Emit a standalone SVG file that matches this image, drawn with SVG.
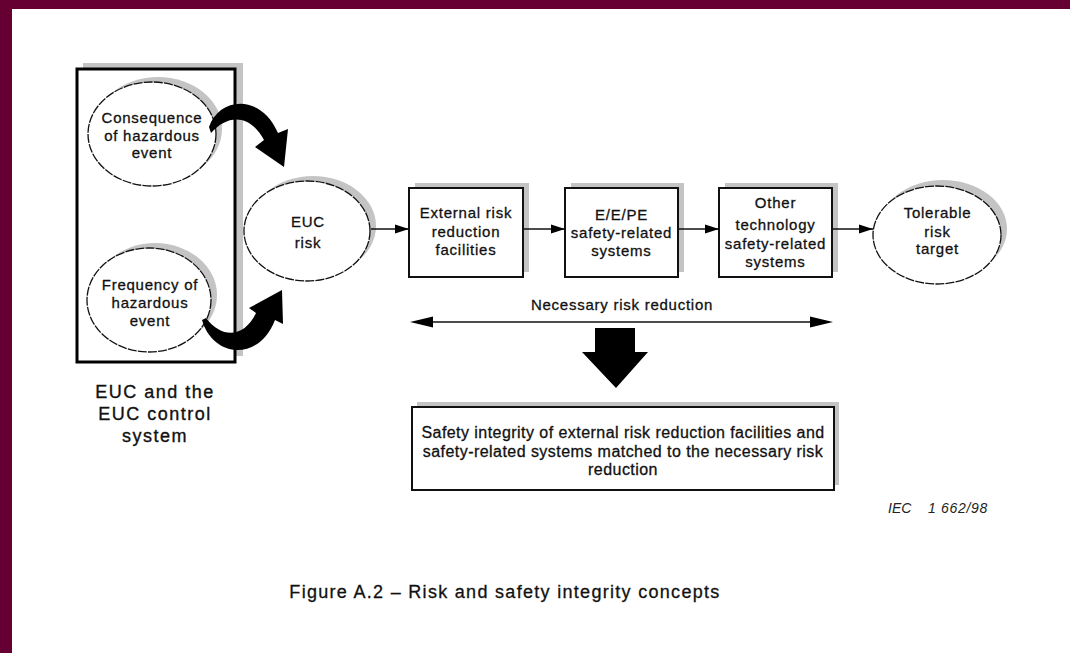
<svg xmlns="http://www.w3.org/2000/svg" width="1070" height="653" viewBox="0 0 1070 653">
  <style>
    .lbl { font-family: "Liberation Sans", Arial, sans-serif; font-size: 15px; letter-spacing: 0.75px; fill: #111; stroke: #111; stroke-width: 0.3px; text-anchor: middle; }
    .big { font-family: "Liberation Sans", Arial, sans-serif; font-size: 18px; letter-spacing: 1.5px; fill: #111; stroke: #111; stroke-width: 0.35px; text-anchor: middle; }
    .cap { font-family: "Liberation Sans", Arial, sans-serif; font-size: 18px; letter-spacing: 1.3px; fill: #111; stroke: #111; stroke-width: 0.3px; text-anchor: middle; }
    .ref { font-family: "Liberation Sans", Arial, sans-serif; font-size: 14px; font-style: italic; fill: #222; }
    .shadow { fill: #c4c4c4; stroke: none; }
    .box { fill: #fff; stroke: #111; stroke-width: 2; }
    .oval { fill: #fff; stroke: #111; stroke-width: 1.3; stroke-dasharray: 9 1.2; }
    .link { stroke: #111; stroke-width: 1.6; fill: none; marker-end: url(#head); }
    .solid { fill: #000; stroke: none; }
  </style>
  <defs>
    <marker id="head" viewBox="0 0 14 10" refX="14" refY="5" markerWidth="14" markerHeight="10" markerUnits="userSpaceOnUse" orient="auto">
      <path d="M0 0.5 L14 5 L0 9.5 Z" fill="#000"/>
    </marker>
  </defs>

  <!-- page frame -->
  <rect x="0" y="0" width="1070" height="653" fill="#660033"/>
  <rect x="12" y="9" width="1058" height="644" fill="#fff"/>

  <!-- EUC and the EUC control system -->
  <g id="euc-system">
    <rect class="shadow" x="83" y="63" width="160" height="293"/>
    <rect x="77" y="69" width="158" height="293" fill="#fff" stroke="#000" stroke-width="3"/>
    <text class="big" x="155" y="398">EUC and the</text>
    <text class="big" x="155" y="420">EUC control</text>
    <text class="big" x="155" y="442">system</text>
  </g>

  <g id="consequence">
    <ellipse class="shadow" cx="158" cy="129" rx="64" ry="52"/>
    <ellipse class="oval" cx="152" cy="134" rx="64" ry="52"/>
    <text class="lbl" x="152" y="123">Consequence</text>
    <text class="lbl" x="152" y="141">of hazardous</text>
    <text class="lbl" x="152" y="158">event</text>
  </g>

  <g id="frequency">
    <ellipse class="shadow" cx="155" cy="295" rx="62" ry="52"/>
    <ellipse class="oval" cx="149" cy="300" rx="62" ry="52"/>
    <text class="lbl" x="150" y="290">Frequency of</text>
    <text class="lbl" x="150" y="308">hazardous</text>
    <text class="lbl" x="150" y="326">event</text>
  </g>

  <g id="euc-risk">
    <ellipse class="shadow" cx="313" cy="226" rx="63" ry="50"/>
    <ellipse class="oval" cx="307" cy="231" rx="63" ry="50"/>
    <text class="lbl" x="308" y="227">EUC</text>
    <text class="lbl" x="308" y="248">risk</text>
  </g>

  <g id="external">
    <rect class="shadow" x="415" y="183" width="114" height="89"/>
    <rect class="box" x="409" y="188" width="114" height="89"/>
    <text class="lbl" x="466" y="218">External risk</text>
    <text class="lbl" x="466" y="237">reduction</text>
    <text class="lbl" x="466" y="255">facilities</text>
  </g>

  <g id="eepe">
    <rect class="shadow" x="571" y="183" width="113" height="89"/>
    <rect class="box" x="565" y="188" width="113" height="89"/>
    <text class="lbl" x="621.5" y="220">E/E/PE</text>
    <text class="lbl" x="621.5" y="238">safety-related</text>
    <text class="lbl" x="621.5" y="256">systems</text>
  </g>

  <g id="other-tech">
    <rect class="shadow" x="725" y="183" width="113" height="89"/>
    <rect class="box" x="719" y="188" width="113" height="89"/>
    <text class="lbl" x="775.5" y="208">Other</text>
    <text class="lbl" x="775.5" y="230">technology</text>
    <text class="lbl" x="775.5" y="249">safety-related</text>
    <text class="lbl" x="775.5" y="267">systems</text>
  </g>

  <g id="tolerable">
    <ellipse class="shadow" cx="943" cy="229" rx="64" ry="49"/>
    <ellipse class="oval" cx="937" cy="235" rx="64" ry="49"/>
    <text class="lbl" x="937.5" y="218">Tolerable</text>
    <text class="lbl" x="937.5" y="237">risk</text>
    <text class="lbl" x="937.5" y="254">target</text>
  </g>

  <g id="integrity">
    <rect class="shadow" x="417" y="402" width="422" height="83"/>
    <rect class="box" x="412" y="407" width="422" height="83"/>
    <text class="lbl" x="623" y="438" style="font-size:16px;letter-spacing:0.45px">Safety integrity of external risk reduction facilities and</text>
    <text class="lbl" x="623" y="457" style="font-size:16px;letter-spacing:0.45px">safety-related systems matched to the necessary risk</text>
    <text class="lbl" x="623" y="475" style="font-size:16px;letter-spacing:0.45px">reduction</text>
  </g>

  <g id="connectors">
    <!-- curved feeds into EUC risk -->
    <path class="solid" d="M209 127 C219 97 261 93 278 133 L288 129 L284 167 L255 147 L264 140 C250 114 228 114 211 133 Z"/>
    <path class="solid" d="M202 320 C213 358 259 362 275 320 L283 324 L282 290 L249 308 L256 313 C244 338 222 339 206 318 Z"/>
    <!-- main chain -->
    <line class="link" x1="371" y1="229" x2="409" y2="229"/>
    <line class="link" x1="523" y1="229" x2="565" y2="229"/>
    <line class="link" x1="678" y1="229" x2="719" y2="229"/>
    <line class="link" x1="832" y1="229" x2="873" y2="229"/>
    <!-- necessary risk reduction span -->
    <line x1="428" y1="322" x2="815" y2="322" stroke="#111" stroke-width="1.6"/>
    <path class="solid" d="M410 322 L433 316.5 L433 327.5 Z"/>
    <path class="solid" d="M833 322 L810 316.5 L810 327.5 Z"/>
    <!-- downward block arrow -->
    <path class="solid" d="M595 328 L635 328 L635 352 L648 352 L616 388 L582 352 L595 352 Z"/>
  </g>

  <text class="lbl" x="622" y="310">Necessary risk reduction</text>

  <text class="ref" x="888" y="513">IEC</text>
  <text class="ref" x="928" y="513" style="letter-spacing:0.7px">1 662/98</text>

  <text class="cap" x="505" y="598">Figure A.2 – Risk and safety integrity concepts</text>
</svg>
